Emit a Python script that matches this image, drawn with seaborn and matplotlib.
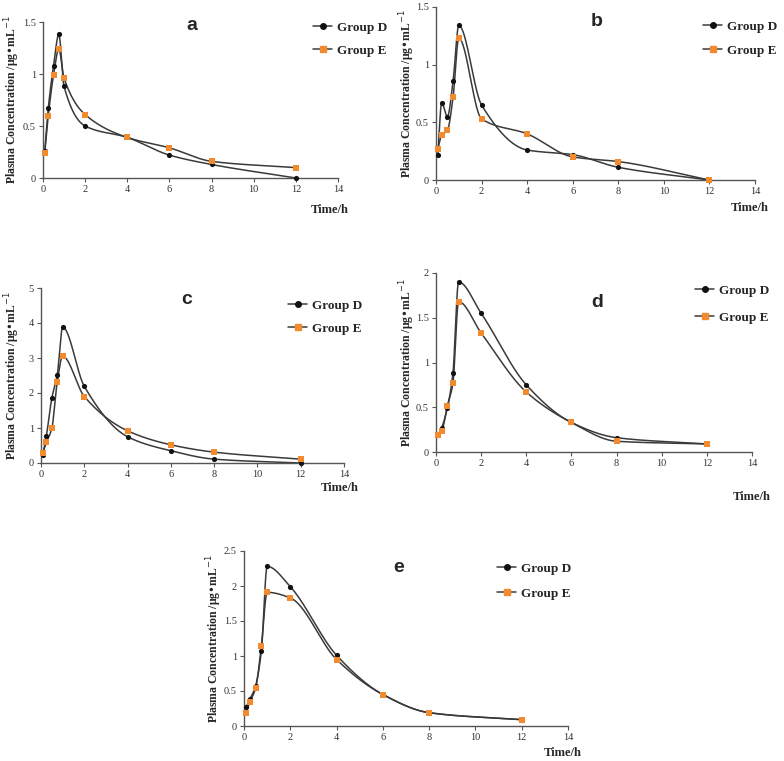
import numpy as np
import pandas as pd
import matplotlib
matplotlib.use("Agg")
import matplotlib.pyplot as plt
from matplotlib.lines import Line2D
from matplotlib.ticker import FuncFormatter
import seaborn as sns

sns.set_theme(style="white")
plt.rcParams['font.family'] = ['Liberation Serif', 'DejaVu Serif']

# ---- data ----
time_h = [0.083, 0.25, 0.5, 0.75, 1, 2, 4, 6, 8, 12]
panel_labels = ["a", "b", "c", "d", "e"]
a_D = [0.26, 0.67, 1.08, 1.38, 0.88, 0.50, 0.39, 0.22, 0.13, 0.0]
a_E = [0.24, 0.60, 0.99, 1.24, 0.96, 0.61, 0.39, 0.29, 0.16, 0.10]
b_D = [0.22, 0.67, 0.55, 0.86, 1.34, 0.65, 0.26, 0.22, 0.11, 0.0]
b_E = [0.27, 0.39, 0.43, 0.72, 1.23, 0.53, 0.40, 0.20, 0.16, 0.0]
c_D = [0.22, 0.78, 1.85, 2.52, 3.88, 2.19, 0.75, 0.35, 0.11, 0.0]
c_E = [0.29, 0.59, 0.99, 2.31, 3.05, 1.90, 0.92, 0.52, 0.31, 0.11]
d_D = [0.19, 0.27, 0.49, 0.88, 1.90, 1.55, 0.75, 0.33, 0.16, 0.09]
d_E = [0.19, 0.23, 0.51, 0.77, 1.68, 1.33, 0.67, 0.33, 0.12, 0.09]
e_D = [0.27, 0.38, 0.57, 1.07, 2.28, 1.99, 1.01, 0.45, 0.19, 0.09]
e_E = [0.19, 0.34, 0.54, 1.14, 1.91, 1.83, 0.95, 0.45, 0.19, 0.09]
y_max = [1.5, 1.5, 5, 2, 2.5]
y_step = [0.5, 0.5, 1, 0.5, 0.5]
x_ticks = [0, 2, 4, 6, 8, 10, 12, 14]
series_names = ["Group D", "Group E"]

LINE_C = "#3a3a3a"
D_C = "#111111"
E_C = "#F28A30"


def pchip(x, y, n=400):
    x = np.asarray(x, float); y = np.asarray(y, float)
    h = np.diff(x); d = np.diff(y) / h
    m = np.zeros_like(y)
    m[0] = d[0]; m[-1] = d[-1]
    for k in range(1, len(x) - 1):
        if d[k - 1] * d[k] <= 0:
            m[k] = 0
        else:
            w1 = 2 * h[k] + h[k - 1]; w2 = h[k] + 2 * h[k - 1]
            m[k] = (w1 + w2) / (w1 / d[k - 1] + w2 / d[k])
    xs = np.linspace(x[0], x[-1], n)
    idx = np.clip(np.searchsorted(x, xs) - 1, 0, len(x) - 2)
    t = (xs - x[idx]) / h[idx]
    h00 = 2 * t**3 - 3 * t**2 + 1; h10 = t**3 - 2 * t**2 + t
    h01 = -2 * t**3 + 3 * t**2; h11 = t**3 - t**2
    ys = h00 * y[idx] + h10 * h[idx] * m[idx] + h01 * y[idx + 1] + h11 * h[idx] * m[idx + 1]
    return xs, ys


W, H = 784, 761
fig = plt.figure(figsize=(W / 100, H / 100), dpi=100)


def px(l, r, b, t):
    return [l / W, 1 - b / H, (r - l) / W, (b - t) / H]


rects = [px(43, 338, 178, 22), px(436, 755, 180, 7), px(41, 344, 463, 288),
         px(436, 752, 452, 273), px(244, 568, 726, 551)]
datas = [(a_D, a_E), (b_D, b_E), (c_D, c_E), (d_D, d_E), (e_D, e_E)]
title_pos = [(192, 25), (597, 22), (187, 300), (597, 302), (399, 567)]
# (left x of legend line, y centre of first row, row gap px)
leg_pos = [(313, 29, 24), (703, 28, 25), (288, 307, 24), (695, 292, 28), (497, 570, 26)]
time_pos = [(330, 210), (750, 208), (340, 488), (752, 497), (563, 753)]
ylab_x = [12, 407, 12, 407, 214]

fmt = FuncFormatter(lambda v, p: ("%g" % v))
LEG_FS = 9.5

for i, (rect, (yd, ye)) in enumerate(zip(rects, datas)):
    ax = fig.add_axes(rect)
    for vals, col, mk, ms in [(yd, D_C, "o", 14), (ye, E_C, "s", 16)]:
        xs, ys = pchip(time_h, vals)
        sns.lineplot(x=xs, y=ys, ax=ax, color=LINE_C, lw=1.1, sort=False,
                     estimator=None, legend=False, clip_on=False)
        sns.scatterplot(x=time_h, y=vals, ax=ax, color=col, marker=mk, s=ms,
                        edgecolor=col, linewidth=0, zorder=5, legend=False, clip_on=False)
    ax.set_xlim(0, 14)
    ax.set_ylim(0, y_max[i])
    ax.set_xticks(x_ticks)
    ax.set_yticks(np.arange(0, y_max[i] + 1e-9, y_step[i]))
    ax.xaxis.set_major_formatter(fmt)
    ax.yaxis.set_major_formatter(fmt)
    for s in ["top", "right"]:
        ax.spines[s].set_visible(False)
    for s in ["left", "bottom"]:
        ax.spines[s].set_color("#555555")
        ax.spines[s].set_linewidth(1.0)
    ax.tick_params(axis="both", direction="out", length=3, width=0.8, color="#555555",
                   labelsize=7.5, labelcolor="#333333", pad=2, bottom=True, left=True)
    ax.set_xlabel(""); ax.set_ylabel("")
    ax.patch.set_alpha(0)

    # panel letter
    fig.text(title_pos[i][0] / W, 1 - title_pos[i][1] / H, panel_labels[i],
             family="Liberation Sans", fontweight="bold", fontsize=14,
             ha="center", va="center")
    # y label
    yc = (rect[1] + rect[1] + rect[3]) / 2
    fig.text(ylab_x[i] / W, yc, "Plasma Concentration /μg•mL$^{-1}$",
             rotation=90, fontweight="bold", fontsize=8.5, ha="center", va="center")
    # time label
    fig.text(time_pos[i][0] / W, 1 - time_pos[i][1] / H, "Time/h",
             fontweight="bold", fontsize=9, ha="center", va="center")
    # legend
    lx, ly, gap = leg_pos[i]
    gap_pt = gap * 72 / 100
    lab_sp = gap_pt / LEG_FS - 1.0
    handles = [Line2D([], [], color=LINE_C, lw=1.1, marker="o", ms=4,
                      markerfacecolor=D_C, markeredgecolor=D_C),
               Line2D([], [], color=LINE_C, lw=1.1, marker="s", ms=4.5,
                      markerfacecolor=E_C, markeredgecolor=E_C)]
    top_y = ly - 0.5 * LEG_FS * 100 / 72 * 1.0 - 1
    ax.legend(handles, series_names, loc="upper left",
              bbox_to_anchor=(lx / W, 1 - top_y / H),
              bbox_transform=fig.transFigure, frameon=False,
              prop={"weight": "bold", "size": LEG_FS}, handlelength=1.45,
              handletextpad=0.4, labelspacing=lab_sp, borderaxespad=0, borderpad=0)

fig.savefig("out.png", dpi=100)
